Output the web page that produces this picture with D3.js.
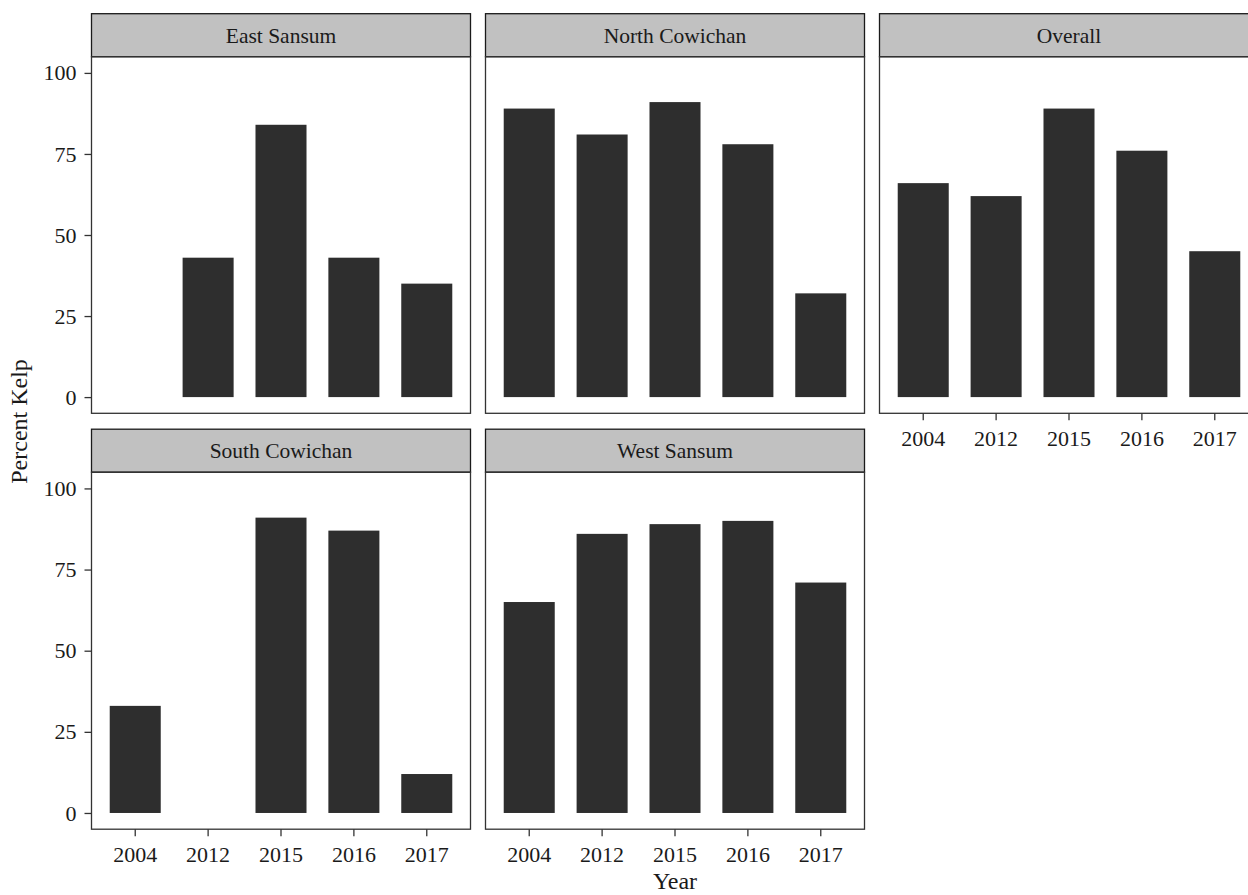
<!DOCTYPE html>
<html>
<head>
<meta charset="utf-8">
<script src="https://cdn.jsdelivr.net/npm/d3@7"></script>
<style>
  body { margin: 0; background: #fff; }
  svg { display: block; }
  text { font-family: "Liberation Serif", "Times New Roman", serif; fill: #1a1a1a; }
</style>
</head>
<body>
<svg id="chart"></svg>
<script>
// categories and values (percent kelp), null = no bar
const years = ["2004", "2012", "2015", "2016", "2017"];
const sites = ["East Sansum", "North Cowichan", "Overall", "South Cowichan", "West Sansum"];
const eastSansum = [null, 43, 84, 43, 35];
const northCowichan = [89, 81, 91, 78, 32];
const overall = [66, 62, 89, 76, 45];
const southCowichan = [33, null, 91, 87, 12];
const westSansum = [65, 86, 89, 90, 71];
const yTicks = [0, 25, 50, 75, 100];

const seriesBySite = [eastSansum, northCowichan, overall, southCowichan, westSansum];

const W = 1248, H = 895;
const left0 = 91.5, panelW = 379, colGap = 15;
const stripH = 43;
const rows = [
  { stripTop: 13.7, panelTop: 56.7, panelH: 356.6 },
  { stripTop: 429.2, panelTop: 472.2, panelH: 357 }
];

const svg = d3.select("#chart").attr("width", W).attr("height", H);

const x = d3.scaleBand().domain(years).range([0, panelW])
  .paddingInner(0.3).paddingOuter(0.25);

sites.forEach((site, i) => {
  const col = i % 3, row = Math.floor(i / 3);
  const r = rows[row];
  const px = left0 + col * (panelW + colGap);
  const y = d3.scaleLinear().domain([-5, 105]).range([r.panelH, 0]);

  // strip
  svg.append("rect")
    .attr("x", px).attr("y", r.stripTop)
    .attr("width", panelW).attr("height", stripH)
    .attr("fill", "#c1c1c1").attr("stroke", "#1a1a1a").attr("stroke-width", 1.3);
  svg.append("text")
    .attr("x", px + panelW / 2).attr("y", r.stripTop + stripH / 2)
    .attr("dy", "0.35em").attr("text-anchor", "middle")
    .style("font-size", "21.5px")
    .text(site);

  const g = svg.append("g").attr("transform", `translate(${px},${r.panelTop})`);

  const vals = seriesBySite[i].map((v, k) => ({ year: years[k], v })).filter(d => d.v !== null);
  g.selectAll(".bar").data(vals).enter().append("rect")
    .attr("class", "bar")
    .attr("x", d => x(d.year))
    .attr("width", x.bandwidth())
    .attr("y", d => y(d.v))
    .attr("height", d => y(0) - y(d.v))
    .attr("fill", "#2e2e2e");

  // panel border
  g.append("rect")
    .attr("width", panelW).attr("height", r.panelH)
    .attr("fill", "none").attr("stroke", "#333").attr("stroke-width", 1.3);

  // y axis on first column
  if (col === 0) {
    const ya = g.append("g").call(d3.axisLeft(y).tickValues(yTicks).tickSize(7).tickPadding(8));
    ya.select(".domain").remove();
    ya.selectAll("line").attr("stroke", "#333").attr("stroke-width", 1.3);
    ya.selectAll("text").style("font-size", "22px").attr("fill", "#1a1a1a");
  }

  // x axis on bottom panel of each column
  const isBottom = row === 1 || (row === 0 && i + 3 >= sites.length);
  if (isBottom) {
    const xa = g.append("g").attr("transform", `translate(0,${r.panelH})`)
      .call(d3.axisBottom(x).tickSize(7).tickPadding(10));
    xa.select(".domain").remove();
    xa.selectAll("line").attr("stroke", "#333").attr("stroke-width", 1.3);
    xa.selectAll("text").style("font-size", "22px").attr("fill", "#1a1a1a");
  }
});

// axis titles
svg.append("text")
  .attr("x", left0 + (3 * panelW + 2 * colGap) / 2).attr("y", 889)
  .attr("text-anchor", "middle").style("font-size", "24px")
  .text("Year");

svg.append("text")
  .attr("transform", `translate(27,${(rows[0].stripTop + rows[1].panelTop + rows[1].panelH) / 2}) rotate(-90)`)
  .attr("text-anchor", "middle").style("font-size", "24px")
  .text("Percent Kelp");
</script>
</body>
</html>
